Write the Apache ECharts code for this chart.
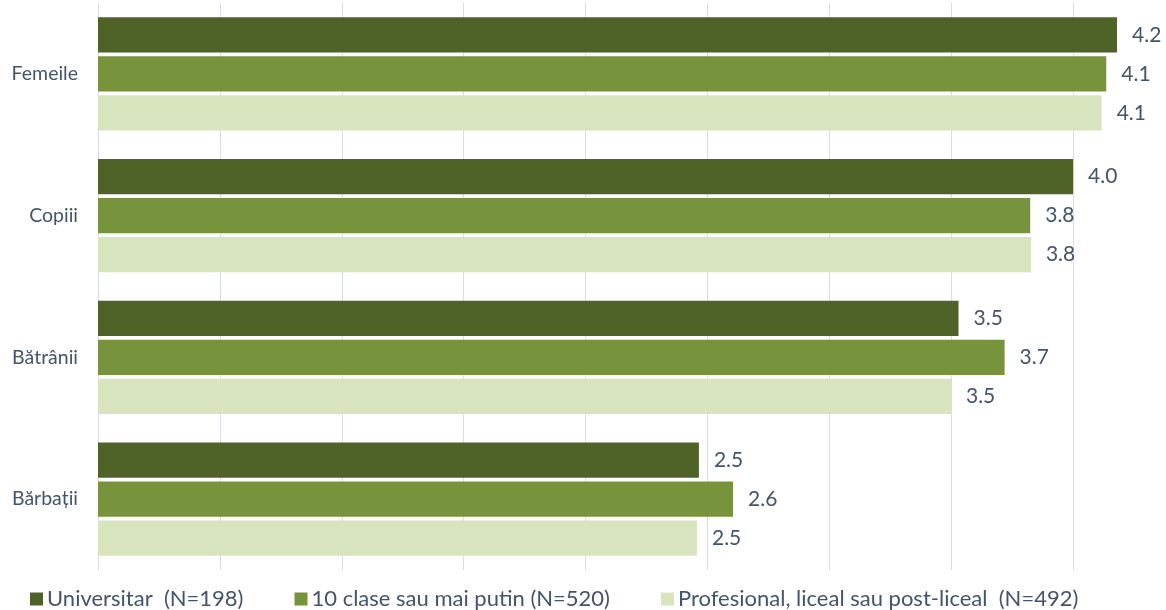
<!DOCTYPE html>
<html>
<head>
<meta charset="utf-8">
<script src="https://cdn.jsdelivr.net/npm/echarts@6/dist/echarts.min.js"></script>
<style>
  html, body { margin: 0; padding: 0; background: #ffffff; }
  #chart { width: 1166px; height: 610px; }
</style>
</head>
<body>
<div id="chart"></div>
<script>
// Categories, top to bottom
const categories = ['Femeile', 'Copiii', 'Bătrânii', 'Bărbații'];

// Series names (legend)
const seriesNames = [
  'Universitar  (N=198)',
  '10 clase sau mai putin (N=520)',
  'Profesional, liceal sau post-liceal  (N=492)'
];

// Mean scores per education level
const universitar = [4.18, 4.00, 3.53, 2.465];
const zeceClase = [4.136, 3.824, 3.719, 2.605];
const profesional = [4.117, 3.827, 3.499, 2.457];

const colors = ['#4F6228', '#77933C', '#D7E4BD'];
const textColor = '#44546A';
const fontFamily = 'Lato, "Open Sans", sans-serif';

const chart = echarts.init(document.getElementById('chart'));

function makeSeries(name, data, color) {
  return {
    name: name,
    type: 'bar',
    data: data,
    barGap: '10%',
    barCategoryGap: '20%',
    itemStyle: { color: color },
    label: {
      show: true,
      position: 'right',
      distance: 15,
      color: textColor,
      fontFamily: fontFamily,
      fontSize: 21,
      formatter: p => p.value.toFixed(1)
    },
    emphasis: { disabled: true }
  };
}

chart.setOption({
  animation: false,
  backgroundColor: '#ffffff',
  // the 4.5 end of the value axis sits past the right edge of the canvas
  grid: { left: 98, top: 3, width: 1097, bottom: 40, containLabel: false, outerBoundsMode: 'none' },
  xAxis: {
    type: 'value',
    min: 0,
    max: 4.5,
    interval: 0.5,
    axisLabel: { show: false },
    axisLine: { show: false },
    axisTick: { show: false },
    splitLine: { lineStyle: { color: '#D9DEE6', width: 1 } }
  },
  yAxis: {
    type: 'category',
    data: categories,
    inverse: true,
    axisLine: { show: false },
    axisTick: { show: false },
    axisLabel: {
      color: textColor,
      fontFamily: fontFamily,
      fontSize: 19.5,
      margin: 20
    }
  },
  legend: {
    left: 25,
    top: 583,
    icon: 'rect',
    itemWidth: 13,
    itemHeight: 13,
    itemGap: 51,
    textStyle: { color: textColor, fontFamily: fontFamily, fontSize: 22, padding: [0, 0, 0, -1] },
    data: seriesNames
  },
  series: [
    makeSeries(seriesNames[0], universitar, colors[0]),
    makeSeries(seriesNames[1], zeceClase, colors[1]),
    makeSeries(seriesNames[2], profesional, colors[2])
  ]
});
</script>
</body>
</html>
